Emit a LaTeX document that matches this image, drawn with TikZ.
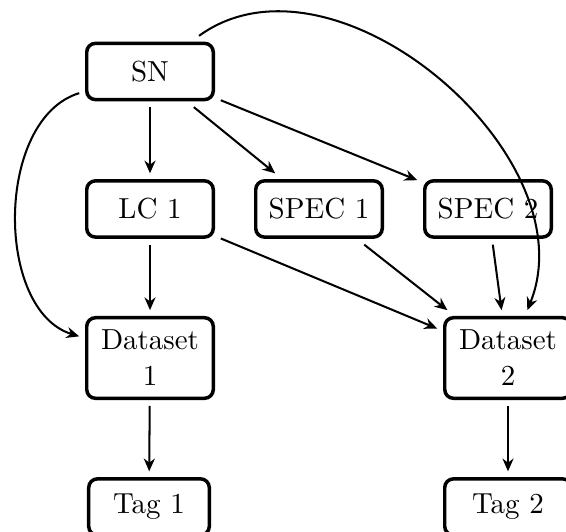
\documentclass[tikz,border=0pt]{standalone}
\usetikzlibrary{arrows.meta}
\begin{document}
\begin{tikzpicture}[x=0.345pt,y=-0.345pt,
  box/.style={draw, line width=1.2pt, rounded corners=3pt, minimum width=43.65pt,
    minimum height=19.4pt, align=center, inner sep=2pt, outer sep=2.6pt,
    font=\fontsize{10}{12.4}\selectfont},
  dbox/.style={box, minimum height=27.8pt},
  tbox/.style={box, minimum width=41.6pt},
  conn/.style={-{Stealth[length=4.4pt,width=3.8pt,inset=1.4pt]}, line width=0.7pt}]
\useasboundingbox (0,0) rectangle (566,532);
\node[box] (sn) at (150,71.5) {SN};
\node[box] (lc1) at (150,209) {LC 1};
\node[box] (spec1) at (319,209) {SPEC 1};
\node[box] (spec2) at (488,209) {SPEC 2};
\node[dbox] (d1) at (150,358) {Dataset\\1};
\node[dbox] (d2) at (508,358) {Dataset\\2};
\node[tbox] (t1) at (149,507) {Tag 1};
\node[box] (t2) at (508,507) {Tag 2};
\draw[conn] (sn) -- (lc1);
\draw[conn] (sn) -- (spec1);
\draw[conn] (sn) -- (spec2);
\draw[conn] (lc1) -- (d1);
\draw[conn] (lc1) -- (d2);
\draw[conn] (spec1) -- (d2);
\draw[conn] (spec2) -- (d2);
\draw[conn] (d1) -- (t1);
\draw[conn] (d2) -- (t2);
\draw[conn] (sn) to[out=197,in=163,looseness=0.93] (d1);
\draw[conn] (sn) to[out=36,in=68,looseness=1.0] (d2);
\end{tikzpicture}
\end{document}
